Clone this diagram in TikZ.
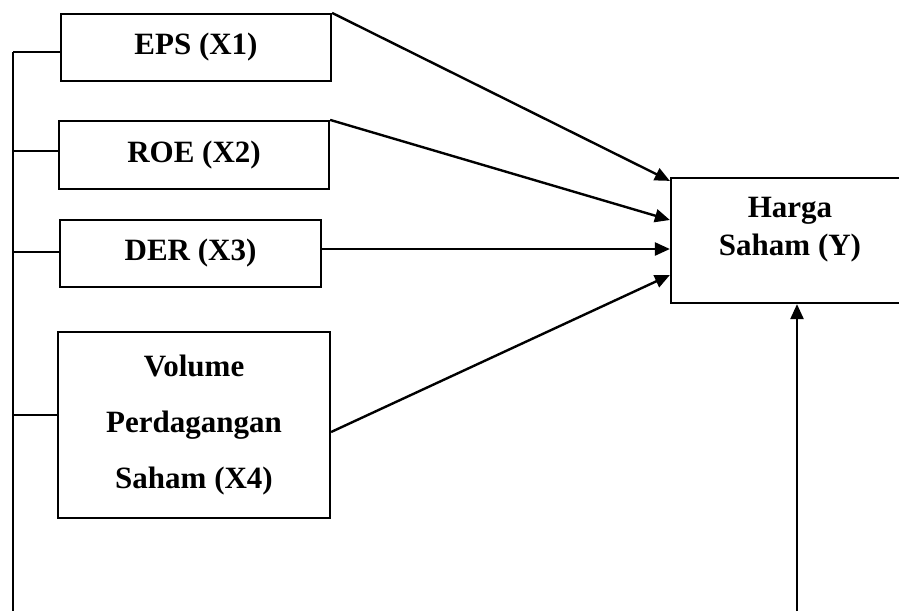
\documentclass[tikz,border=0pt]{standalone}
\usepackage{fontspec}
\setmainfont{Liberation Serif}
\usetikzlibrary{arrows.meta,positioning}

\begin{document}
\begin{tikzpicture}[
  x=1pt,y=1pt,
  font=\bfseries\fontsize{31}{38}\selectfont,
  box/.style={draw,line width=2.2pt,align=center,inner sep=0pt},
  line/.style={line width=2pt},
  arr/.style={-{Triangle[length=15pt,width=13pt]},line width=2.4pt}
]
\useasboundingbox (0,0) rectangle (899,-611);
\node[box,minimum width=270pt,minimum height=67pt] (eps) at (196,-47.5) {EPS (X1)};
\node[box,minimum width=270pt,minimum height=68pt] (roe) at (194,-155) {ROE (X2)};
\node[box,minimum width=261pt,minimum height=67pt] (der) at (190.5,-253.5) {DER (X3)};
\node[box,minimum width=272pt,minimum height=186pt,font=\bfseries\fontsize{31}{56}\selectfont] (vol) at (194,-425) {Volume\\Perdagangan\\Saham (X4)};
\node[box,minimum width=238pt,minimum height=125pt] (harga) at (790,-240.5) {};
\node[align=center] (hargatext) at ([yshift=11pt]harga.center) {Harga\\Saham (Y)};
\coordinate (lefttop) at (13,-52);
\coordinate (leftbot) at (13,-611);
\coordinate (hargabot) at (797,-611);
% left bracket line
\draw[line] (lefttop) -- (leftbot);
\draw[line] (lefttop) -- (lefttop -| eps.west);
\draw[line] ([yshift=4pt]roe.west) -- ([yshift=4pt]roe.west -| leftbot);
\draw[line] ([yshift=1.5pt]der.west) -- ([yshift=1.5pt]der.west -| leftbot);
\draw[line] ([yshift=10pt]vol.west) -- ([yshift=10pt]vol.west -| leftbot);
% arrows into Y
\draw[arr] (eps.north east) -- ([yshift=-4pt]harga.north west);
\draw[arr] (roe.north east) -- ([yshift=20.5pt]harga.west);
\draw[arr] ([yshift=4.5pt]der.east) -- ([yshift=4.5pt]der.east -| harga.west);
\draw[arr] ([yshift=-7pt]vol.east) -- ([yshift=-34.5pt]harga.west);
\draw[arr] (hargabot) -- (hargabot |- harga.south);
\end{tikzpicture}
\end{document}
